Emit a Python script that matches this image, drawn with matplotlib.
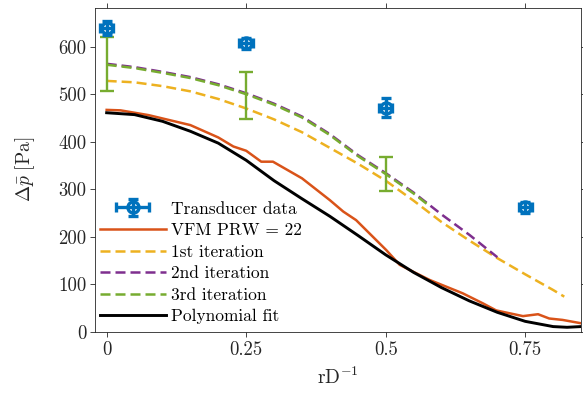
import matplotlib
matplotlib.use("Agg")
import matplotlib.pyplot as plt
from matplotlib.legend_handler import HandlerErrorbar

plt.rcParams['font.family'] = ['cmr10']
plt.rcParams['mathtext.fontset'] = 'cm'
plt.rcParams['axes.unicode_minus'] = False

# Pressure-drop measurements at the transducer locations
trans_x = [0.0, 0.25, 0.5, 0.75]
trans_y = [639, 607, 472, 262]
trans_yerr = [14, 12, 20, 12]
trans_xerr = [0.012, 0.012, 0.012, 0.012]

# VFM estimate (PRW = 22)
vfm_x = [0.0, 0.025, 0.075, 0.1, 0.15, 0.2, 0.227, 0.25, 0.277, 0.298, 0.35,
         0.4, 0.424, 0.447, 0.477, 0.501, 0.525, 0.55, 0.579, 0.638, 0.674,
         0.698, 0.746, 0.773, 0.793, 0.817, 0.85]
vfm_y = [467, 466, 456, 449, 435, 409, 390, 381, 358, 358, 323,
         277, 253, 235, 200, 172, 141, 126, 109, 81, 60,
         45, 33, 37, 28, 25, 18]

# Iterative solutions
it1_x = [0.0, 0.05, 0.1, 0.15, 0.2, 0.25, 0.3, 0.35, 0.4, 0.45, 0.5, 0.55,
         0.6, 0.65, 0.7, 0.75, 0.8, 0.82]
it1_y = [528, 525, 517, 506, 490, 470, 447, 420, 387, 354, 318, 276,
         231, 192, 155, 121, 88, 74]

it2_x = [0.0, 0.05, 0.1, 0.15, 0.2, 0.25, 0.3, 0.35, 0.4, 0.45, 0.5, 0.55,
         0.575, 0.6, 0.65, 0.7]
it2_y = [564, 557, 547, 536, 521, 502, 480, 453, 416, 372, 334, 293,
         270, 247, 204, 157]

it3_x = [0.0, 0.05, 0.1, 0.15, 0.2, 0.25, 0.3, 0.35, 0.4, 0.45, 0.5, 0.55,
         0.575]
it3_y = [562, 555, 545, 534, 519, 500, 478, 451, 414, 370, 332, 291, 268]

# Uncertainty of the 3rd iteration
it3_err_x = [0.0, 0.25, 0.5]
it3_err_y = [563, 497, 332]
it3_err = [57, 50, 35]

# Polynomial fit
poly_x = [0.0, 0.05, 0.1, 0.15, 0.2, 0.25, 0.3, 0.35, 0.4, 0.45, 0.5, 0.55,
          0.6, 0.65, 0.7, 0.75, 0.8, 0.825, 0.85]
poly_y = [461, 457, 443, 422, 397, 361, 318, 280, 243, 203, 162, 125,
          93, 65, 41, 22, 11, 9.5, 11]

x_ticks = [0, 0.25, 0.5, 0.75]
x_ticklabels = ['0', '0.25', '0.5', '0.75']
y_ticks = [0, 100, 200, 300, 400, 500, 600]
y_ticklabels = ['0', '100', '200', '300', '400', '500', '600']

c_blue = '#0072BD'
c_orange = '#D95319'
c_yellow = '#EDB120'
c_purple = '#7E2F8E'
c_green = '#77AC30'
ax_col = '#262626'

fig = plt.figure(figsize=(5.83, 4.04), dpi=100)
ax = fig.add_axes([0.1638, 0.1787, 0.8328, 0.8022])

lw = 1.8
dash = (4.0, 2.0)

eb = ax.errorbar(trans_x, trans_y, yerr=trans_yerr, xerr=trans_xerr, fmt='o',
                 color=c_blue, mfc='none', mec=c_blue, mew=2.4, ms=8,
                 elinewidth=2.4, capsize=3.5, capthick=2.4,
                 label='Transducer data', zorder=3)
l_vfm, = ax.plot(vfm_x, vfm_y, '-', color=c_orange, lw=lw,
                 label='VFM PRW = 22')
l_it1, = ax.plot(it1_x, it1_y, '--', color=c_yellow, lw=lw, dashes=dash,
                 label='1st iteration')
l_it2, = ax.plot(it2_x, it2_y, '--', color=c_purple, lw=lw, dashes=dash,
                 label='2nd iteration')
l_it3, = ax.plot(it3_x, it3_y, '--', color=c_green, lw=lw, dashes=dash,
                 label='3rd iteration')
ax.errorbar(it3_err_x, it3_err_y, yerr=it3_err, fmt='none', ecolor=c_green,
            elinewidth=1.7, capsize=5, capthick=1.7)
l_poly, = ax.plot(poly_x, poly_y, '-', color='black', lw=2.1,
                  label='Polynomial fit')

ax.set_xlim(-0.02, 0.85)
ax.set_ylim(0, 682)
ax.set_xticks(x_ticks, x_ticklabels)
ax.set_yticks(y_ticks, y_ticklabels)
ax.tick_params(direction='out', length=3.6, width=0.6, colors=ax_col,
               labelsize=13.5, top=True, right=True, pad=3)
for s in ax.spines.values():
    s.set_linewidth(0.6)
    s.set_color(ax_col)

ax.set_xlabel(r'$\mathrm{rD}^{-1}$', fontsize=14, color=ax_col, labelpad=6)
ax.set_ylabel(r'$\Delta\bar{p}\ \mathrm{[Pa]}$', fontsize=14, color=ax_col,
              labelpad=15)

handles = [eb, l_vfm, l_it1, l_it2, l_it3, l_poly]
labels = [h.get_label() for h in handles]
leg = ax.legend(handles, labels, loc='upper left',
                bbox_to_anchor=(0.009, 0.403),
                frameon=False, fontsize=12.5, handlelength=3.8,
                handletextpad=0.3, labelspacing=0.36, borderpad=0,
                borderaxespad=0,
                handler_map={type(eb): HandlerErrorbar(xerr_size=0.95,
                                                       yerr_size=0.5)})

fig.savefig('out.png', dpi=100)
